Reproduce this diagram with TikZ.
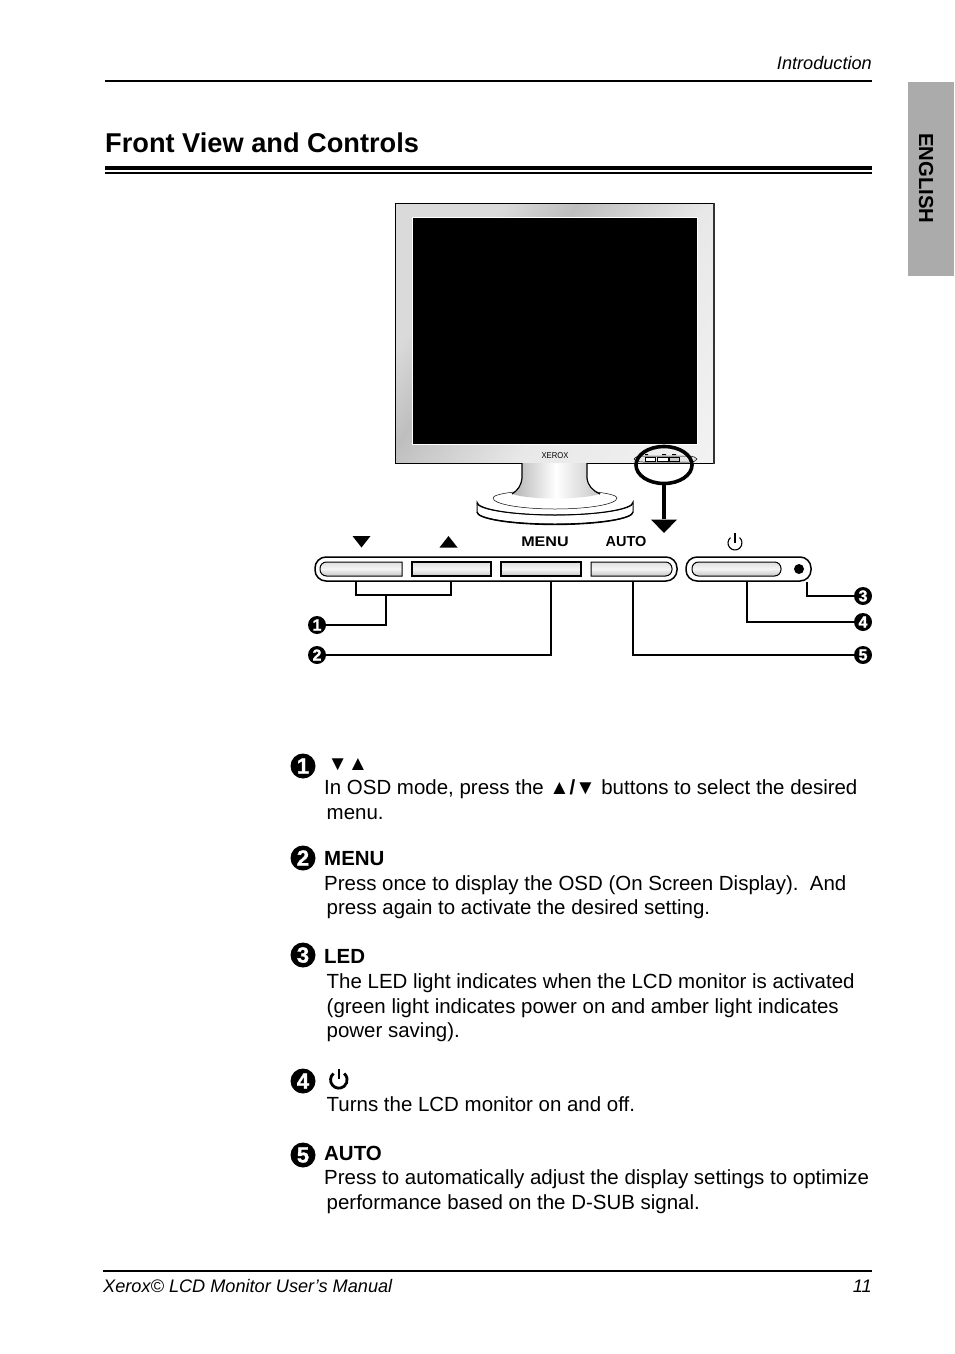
\documentclass[tikz,border=0pt]{standalone}
\usepackage{fontspec}
\setmainfont{Liberation Sans}
\newfontfamily\numf[FakeBold=1.4]{Liberation Sans Bold}
\usetikzlibrary{calc,shapes.geometric}
\newcommand{\fs}[1]{\fontsize{#1}{#1}\selectfont}
\definecolor{c0}{HTML}{DADADA}
\definecolor{c1}{HTML}{BEBEBE}
\definecolor{c2}{HTML}{E8E8E8}
\definecolor{c3}{HTML}{F8F8F8}
\pgfdeclarehorizontalshading{bez}{100bp}{color(0bp)=(c0);color(30bp)=(c0);color(40bp)=(c1);color(58bp)=(c2);color(100bp)=(c3)}
\tikzset{
 x=1pt,y=-1pt,
 body/.style={anchor=base west,inner sep=0pt,font=\fs{20.47}},
 bodyb/.style={anchor=base west,inner sep=0pt,font=\fs{20.47}\bfseries},
 foot/.style={anchor=base,inner sep=0pt,font=\fs{18.15}\itshape},
 bigno/.style={circle,fill=black,text=white,inner sep=0pt,minimum size=25pt,font=\numf\fs{22}},
 smallno/.style={circle,fill=black,text=white,inner sep=0pt,minimum size=18pt,font=\numf\fs{16}},
 lead/.style={draw=black,line width=1.6pt},
 btn/.style={draw=black,line width=1pt,top color=gray!25,bottom color=gray!45,middle color=gray!8},
 panel/.style={draw=black,line width=1.5pt,fill=white,rounded corners=11pt},
 clabel/.style={inner sep=0pt,font=\fs{14.5}\bfseries},
}
\begin{document}
\begin{tikzpicture}
\useasboundingbox (0,0) rectangle (954,1354);
\fill[white] (0,0) rectangle (954,1354);
% header
\node[foot,anchor=base east] (hdr) at (872,70) {Introduction};
\draw[line width=1.6pt] (105,81) -- (872,81);
\node[anchor=base west,inner sep=0pt,font=\fs{27.2}\bfseries] (title) at (105,152.5) {Front View and Controls};
\draw[line width=3.4pt] (105,168) -- (872,168);
\draw[line width=1.4pt] (105,173) -- (872,173);
\fill[black!33] (908,82) rectangle (954,276);
\node[rotate=-90,inner sep=0pt,font=\fs{20.3}\bfseries] (eng) at (926,178.5) {ENGLISH};
% monitor
\shade[shading=bez,shading angle=-37] (395,203) rectangle (713,463);
\draw[line width=1pt] (395,463) -- (395,203) -- (713,203);
\draw[line width=1pt] (395,463) -- (713,463);
\draw[line width=2pt,black!80] (713.5,203) -- (713.5,464);
\fill[black] (413,218) rectangle (697,444);
\draw[white,line width=1pt] (412.5,217.5) rectangle (697.5,444.5);
\node[inner sep=0pt,font=\fs{8.5},xscale=.9] (brand) at (555,455.5) {XEROX};
% stand
\fill[white,draw=black,line width=1pt] (477,502) arc[start angle=180,end angle=360,x radius=78,y radius=-13] -- ++(0,10) arc[start angle=0,end angle=180,x radius=78,y radius=12] -- cycle;
\draw[line width=.7pt] (477,503) arc[start angle=180,end angle=0,x radius=78,y radius=12];
\draw[line width=1.3pt] (477,512) arc[start angle=180,end angle=0,x radius=78,y radius=12.5];
\draw[line width=.5pt] (493,498) arc[start angle=180,end angle=0,x radius=62,y radius=11];
\draw[line width=.5pt] (493,498) arc[start angle=180,end angle=360,x radius=62,y radius=8];
\shade[left color=gray!60,right color=gray!45,middle color=white] (522,463) -- (587,463) -- (587,480) .. controls (588,488) and (592,491) .. (600,494) .. controls (580,500) and (530,500) .. (512,494) .. controls (518,490) and (522,485) .. (522,475) -- cycle;
\draw[line width=1.2pt] (522,463) -- (522,478) .. controls (521,486) and (518,490) .. (512,494);
\draw[line width=1.2pt] (587,463) -- (587,478) .. controls (588,486) and (592,490) .. (600,494);
% tiny buttons on the bezel
\draw[line width=.5pt,fill=gray!20] (634,459) .. controls (636,456) and (640,456) .. (643,456) -- (689,456) .. controls (694,456) and (696,458) .. (697,459) .. controls (696,461) and (694,462) .. (689,462) -- (643,462) .. controls (640,462) and (636,462) .. (634,459) -- cycle;
\draw[line width=.8pt,fill=white] (645,457.5) rectangle (655,461);
\draw[line width=.5pt,fill=white] (657,457.5) rectangle (668,461);
\draw[line width=.5pt,fill=gray!40] (669,457.5) rectangle (679,461);
\fill (645,454) rectangle (648,455) (662,454) rectangle (666,455) (672,454) rectangle (676,455);
% zoom ring and arrow
\node[draw=black,ellipse,line width=3.6pt,minimum width=56pt,minimum height=37pt,inner sep=0pt] (ring) at (664,465) {};
\coordinate (tip) at (664,533);
\coordinate (neck) at (664,519);
\draw[line width=3.4pt] (ring.south) -- (neck);
\fill (651,519.5) -- (677,519.5) -- (tip) -- cycle;
% control strip labels
\fill (352.5,536) -- (370.5,536) -- (361.5,547.5) -- cycle;
\fill (439.5,547.5) -- (457.5,547.5) -- (448.5,536) -- cycle;
\node[clabel,font=\fs{14}\bfseries,xscale=1.15] (lmenu) at (545,541.5) {MENU};
\node[clabel] (lauto) at (626,541.5) {AUTO};
\draw[line width=1.1pt] (730.5,537.6) arc[start angle=-130,end angle=-410,radius=7];
\draw[line width=1.1pt] (735,533) -- (735,543);
% control strips
\draw[panel] (315,557) rectangle (677,581);
\draw[panel] (686,557) rectangle (811,581);
\path[btn] (402,562) [rounded corners=6.5pt] -- (320,562) -- (320,576) [sharp corners] -- (402,576) -- cycle;
\path[btn,line width=1.4pt] (412,562) rectangle (491,576);
\path[btn,line width=1.4pt] (501,562) rectangle (581,576);
\path[btn] (591,562) [rounded corners=6.5pt] -- (672,562) -- (672,576) [sharp corners] -- (591,576) -- cycle;
\path[btn,rounded corners=6.5pt] (692,562) -- (781,562) -- (781,576) -- (692,576) -- cycle;
\fill (799,569) circle[radius=5];
% callout numbers
\node[smallno] (c1) at (317,625) {1};
\node[smallno] (c2) at (317,655) {2};
\node[smallno] (c3) at (863,596) {3};
\node[smallno] (c4) at (863,622) {4};
\node[smallno] (c5) at (863,655) {5};
\coordinate (b1) at (356,582); \coordinate (b2) at (451,582);
\coordinate (j) at (386,595);
\coordinate (menu) at (551,582);
\coordinate (led) at (807,582);
\coordinate (pow) at (747,582);
\coordinate (auto) at (633,582);
\draw[lead] (b1) |- (j) -| (b2);
\draw[lead] (j) |- (c1);
\draw[lead] (menu) |- (c2);
\draw[lead] (led) |- (c3);
\draw[lead,line width=2.2pt] (pow) |- (c4);
\draw[lead] (auto) |- (c5);
% text blocks
\node[bigno] (d1) at (303,766) {1};
\node[body] (t1a) at (327.5,770) {▼▲};
\node[body] (t1b) at (324,794) {In OSD mode, press the ▲{\bfseries/}▼ buttons to select the desired};
\node[body] (t1c) at (326.5,819) {menu.};
\node[bigno] (d2) at (303,858) {2};
\node[bodyb] (t2a) at (324,865) {MENU};
\node[body] (t2b) at (324,890) {Press once to display the OSD (On Screen Display).\ \ And};
\node[body] (t2c) at (326.5,914) {press again to activate the desired setting.};
\node[bigno] (d3) at (303,955) {3};
\node[bodyb] (t3a) at (324,963) {LED};
\node[body] (t3b) at (326.5,988) {The LED light indicates when the LCD monitor is activated};
\node[body] (t3c) at (326.5,1013) {(green light indicates power on and amber light indicates};
\node[body] (t3d) at (326.5,1037) {power saving).};
\node[bigno] (d4) at (303,1081) {4};
\draw[line width=2.8pt] (333.5,1073.5) arc[start angle=-130,end angle=-410,radius=8.3];
\draw[line width=2.8pt] (339,1068.5) -- (339,1079);
\node[body] (t4b) at (326.5,1111) {Turns the LCD monitor on and off.};
\node[bigno] (d5) at (303,1155) {5};
\node[bodyb] (t5a) at (324,1160) {AUTO};
\node[body] (t5b) at (324,1184) {Press to automatically adjust the display settings to optimize};
\node[body] (t5c) at (326.5,1209) {performance based on the D-SUB signal.};
% footer
\draw[line width=1.6pt] (103,1271) -- (872,1271);
\node[foot,anchor=base west] (fl) at (103,1292) {Xerox© LCD Monitor User’s Manual};
\node[foot,anchor=base east] (fr) at (872,1292) {11};
\end{tikzpicture}
\end{document}
